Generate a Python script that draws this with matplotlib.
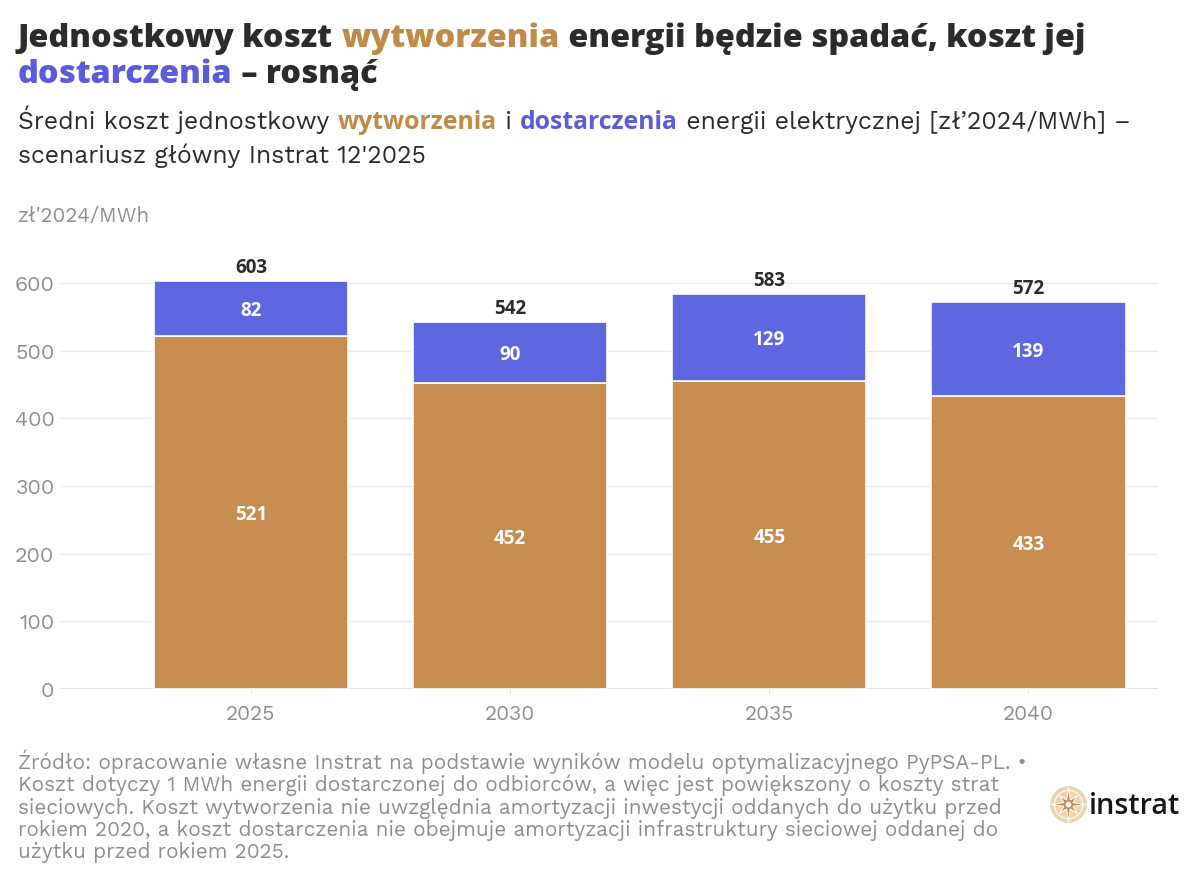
import matplotlib
matplotlib.use("Agg")
import matplotlib.pyplot as plt
from matplotlib.patches import Circle, Polygon
import numpy as np

years = ["2025", "2030", "2035", "2040"]
wytworzenie = [521, 452, 455, 433]
dostarczenie = [82, 90, 129, 139]
totals = [603, 542, 583, 572]
yticks = [0, 100, 200, 300, 400, 500, 600]

title1 = [("Jednostkowy koszt ", "dark"), ("wytworzenia", "orange"), (" energii będzie spadać, koszt jej", "dark")]
title2 = [("dostarczenia", "blue"), (" – rosnąć", "dark")]
sub1 = [("Średni koszt jednostkowy ", "dark"), ("wytworzenia", "orange"), (" i ", "dark"),
        ("dostarczenia", "blue"), (" energii elektrycznej [zł’2024/MWh] –", "dark")]
sub2 = [("scenariusz główny Instrat 12'2025", "dark")]
footer_lines = [
    "Źródło: opracowanie własne Instrat na podstawie wyników modelu optymalizacyjnego PyPSA-PL. •",
    "Koszt dotyczy 1 MWh energii dostarczonej do odbiorców, a więc jest powiększony o koszty strat",
    "sieciowych. Koszt wytworzenia nie uwzględnia amortyzacji inwestycji oddanych do użytku przed",
    "rokiem 2020, a koszt dostarczenia nie obejmuje amortyzacji infrastruktury sieciowej oddanej do",
    "użytku przed rokiem 2025.",
]
unit_label = "zł'2024/MWh"

ORANGE = "#C68C50"
BLUE = "#5F67E0"
DARK = "#2B2B2B"
GRAY = "#8E8E8E"
COLS = {"dark": DARK, "orange": "#C08A48", "blue": "#5A5CD8"}
BODY = "Work Sans"
BOLD = "Open Sans"

W, H = 1200, 885
fig = plt.figure(figsize=(12, 8.85), dpi=100)
renderer = fig.canvas.get_renderer()

def px(xp, yp):
    return xp / W, 1 - yp / H

def style(c, bold_sub, title):
    if title:
        return BOLD, "heavy"
    if bold_sub and c != "dark":
        return BOLD, "bold"
    return BODY, "normal"

def measure(parts, size, bold_sub=False, title=False):
    tot = 0
    for txt, c in parts:
        fam, w = style(c, bold_sub, title)
        t = fig.text(0, 0, txt, fontsize=size, family=fam, fontweight=w)
        tot += t.get_window_extent(renderer=renderer).width
        t.remove()
    return tot

def draw_parts(parts, xp, yp, size, bold_sub=False, title=False):
    x0, y0 = px(xp, yp)
    for txt, c in parts:
        fam, w = style(c, bold_sub, title)
        t = fig.text(x0, y0, txt, fontsize=size, family=fam, fontweight=w, color=COLS[c], va="baseline")
        x0 += t.get_window_extent(renderer=renderer).width / W

# title
ts = 24 * 1067 / measure(title1, 24, title=True)
draw_parts(title1, 18, 47, ts, title=True)
draw_parts(title2, 18, 83, ts, title=True)
# subtitle
ss = 18 * 1117 / measure(sub1, 18, bold_sub=True)
draw_parts(sub1, 18, 129, ss, bold_sub=True)
draw_parts(sub2, 18, 163, ss, bold_sub=True)
# footer
fs = 14 * 1007 / measure([(footer_lines[0], "dark")], 14)
for i, line in enumerate(footer_lines):
    fig.text(*px(18, 769 + i * 22.3), line, fontsize=fs, family=BODY, color=GRAY, va="baseline")
# unit label
us = 15 * 132 / measure([(unit_label, "dark")], 15)
fig.text(*px(18, 222), unit_label, fontsize=us, family=BODY, color=GRAY, va="baseline")

# chart
ax = fig.add_axes([60 / W, (H - 689) / H, 1098 / W, (689 - 269.5) / H])
x = np.arange(len(years))
ax.bar(x, wytworzenie, width=0.75, color=ORANGE, edgecolor="white", linewidth=1.2, zorder=3)
ax.bar(x, dostarczenie, bottom=wytworzenie, width=0.75, color=BLUE, edgecolor="white", linewidth=1.2, zorder=3)

for i in range(len(years)):
    ax.text(x[i], wytworzenie[i] / 2, str(wytworzenie[i]), ha="center", va="center_baseline",
            color="white", fontsize=13.5, fontweight="bold", family=BOLD, zorder=4)
    ax.text(x[i], wytworzenie[i] + dostarczenie[i] / 2, str(dostarczenie[i]), ha="center",
            va="center_baseline", color="white", fontsize=13.5, fontweight="bold", family=BOLD, zorder=4)
    ax.annotate(str(totals[i]), (x[i], totals[i]), xytext=(0, 6), textcoords="offset points",
                ha="center", va="baseline", color=DARK, fontsize=13.5, fontweight="bold",
                family=BOLD, zorder=4, annotation_clip=False)

ax.set_xlim(-0.737, 3.5)
ax.set_ylim(0, 620)
ax.set_yticks(yticks)
ax.set_xticks(x)
ax.set_xticklabels(years)
ax.grid(axis="y", color="#EBEBEB", linewidth=1, zorder=0)
for s in ax.spines.values():
    s.set_visible(False)
ax.axhline(0, color="#E0E0E0", linewidth=1.2, zorder=2)
ax.tick_params(axis="y", length=0, labelsize=15.5, labelcolor=GRAY, pad=4)
ax.tick_params(axis="x", length=3, color="#E0E0E0", labelsize=15, labelcolor=GRAY, pad=8)
for lab in ax.get_xticklabels() + ax.get_yticklabels():
    lab.set_family(BODY)

# logo
lax = fig.add_axes([1050 / W, (H - 823) / H, 37 / W, 37 / H])
lax.set_xlim(-1.05, 1.05)
lax.set_ylim(-1.05, 1.05)
lax.set_aspect("equal")
lax.axis("off")
lax.add_patch(Circle((0, 0), 1.0, color="#EDD3AE", zorder=1))
lax.add_patch(Circle((0, 0), 0.8, facecolor="none", edgecolor="white", linewidth=0.8, zorder=2))
ang = np.linspace(0, 2 * np.pi, 17)[:-1] + np.pi / 2
rad = np.where(np.arange(16) % 2 == 0, np.where(np.arange(16) % 4 == 0, 0.98, 0.72), 0.28)
lax.add_patch(Polygon(np.c_[rad * np.cos(ang), rad * np.sin(ang)], closed=True,
                      facecolor="#C68C50", edgecolor="white", linewidth=0.8, zorder=3))
lax.add_patch(Circle((0, 0), 0.12, color="white", zorder=4))
ls = 24 * 97 / measure([("instrat", "orange")], 24, bold_sub=True)
fig.text(*px(1089, 814), "instrat", fontsize=ls, family=BOLD, fontweight="semibold",
         color="#151515", va="baseline")

fig.savefig("out.png", dpi=100)
